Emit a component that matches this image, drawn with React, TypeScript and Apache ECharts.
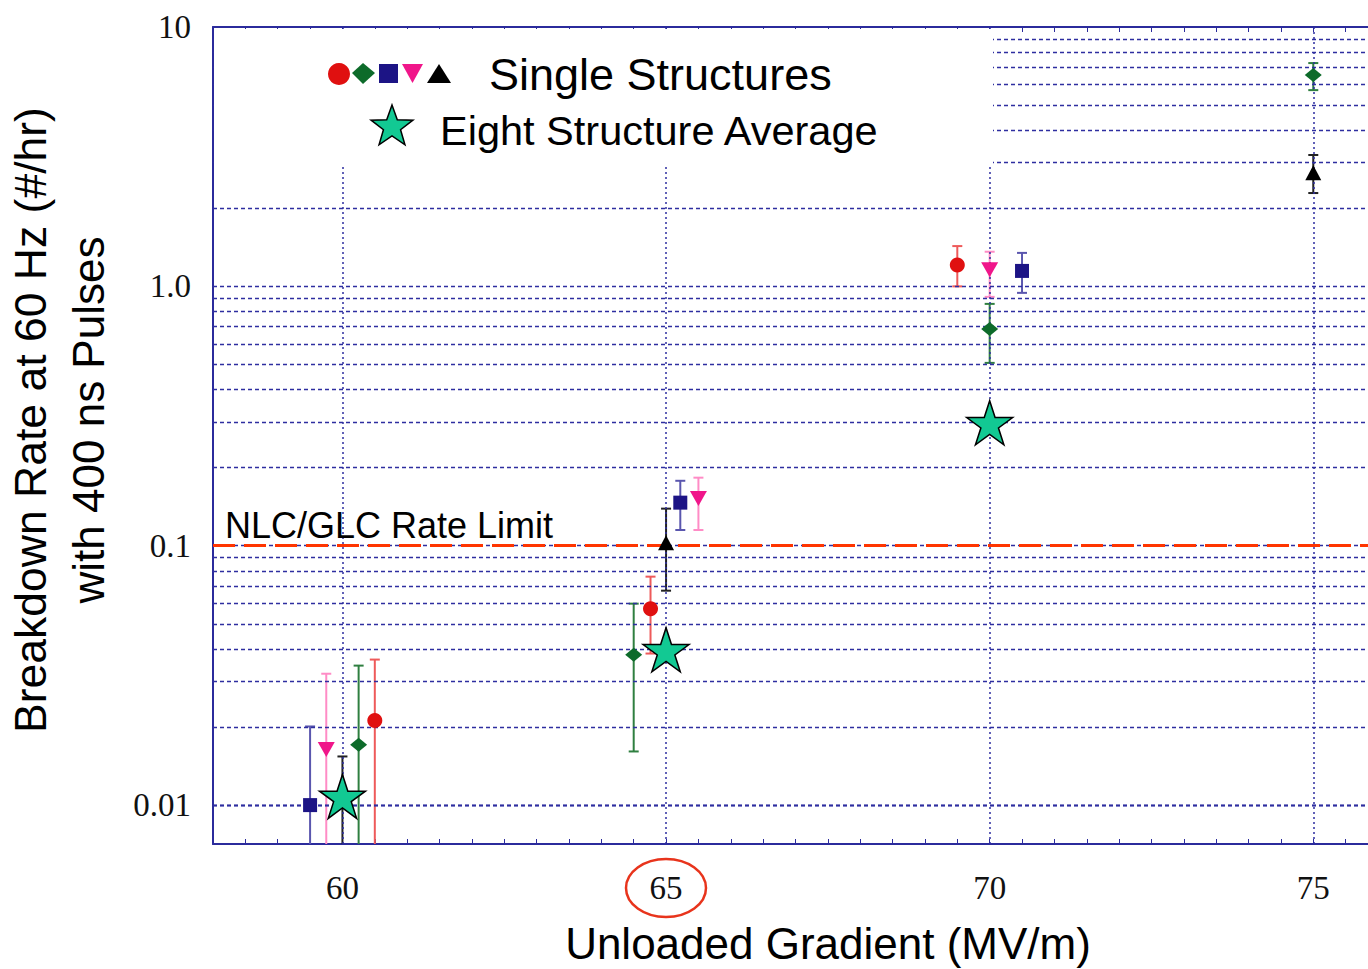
import React, { useEffect, useRef } from "react";
import * as echarts from "echarts";

// ---- data ----
const redX = [60.5, 64.76, 69.5];
const redY = [0.0212, 0.0572, 1.21];
const redLow = [0.005, 0.0384, 1.0];
const redHigh = [0.0364, 0.076, 1.43];

const greenX = [60.25, 64.5, 70, 75];
const greenY = [0.0171, 0.038, 0.685, 6.53];
const greenLow = [0.005, 0.0161, 0.507, 5.71];
const greenHigh = [0.0345, 0.0598, 0.856, 7.26];

const navyX = [59.5, 65.22, 70.5];
const navyY = [0.01, 0.1466, 1.147];
const navyLow = [0.005, 0.115, 0.944];
const navyHigh = [0.0201, 0.178, 1.346];

const pinkX = [59.75, 65.5, 70];
const pinkY = [0.0164, 0.152, 1.158];
const pinkLow = [0.005, 0.115, 0.911];
const pinkHigh = [0.0321, 0.183, 1.36];

const blackX = [65, 75];
const blackY = [0.1027, 2.74];
const blackLow = [0.0671, 2.29];
const blackHigh = [0.139, 3.21];

const starX = [60, 65, 70];
const starY = [0.0108, 0.0397, 0.298];
const starErrX = [60];
const starErrLow = [0.005];
const starErrHigh = [0.0154];

const rateLimit = 0.1;
const xGridLines = [60, 65, 70, 75];
const xLabelValues = [60, 65, 70, 75];
const yTickValues = [0.01, 0.1, 1, 10];
const yTickLabels = ["0.01", "0.1", "1.0", "10"];

const xMin = 58;
const xMax = 76;
const yMin = 0.00708;
const yMax = 10;

const yGridLevels = [0.001, 0.01, 0.1, 1]
  .flatMap((d) => [1, 2, 3, 4, 5, 6, 7, 8, 9].map((m) => +(m * d).toPrecision(3)))
  .filter((v) => v > yMin && v < yMax);

const STAR_PATH =
  "path://M50 0 L61.2 34.5 L97.6 34.5 L68.2 55.9 L79.4 90.5 L50 69.1 L20.6 90.5 L31.8 55.9 L2.4 34.5 L38.8 34.5 Z";
const TRI_DOWN_PATH = "path://M0 0 L100 0 L50 90 Z";

const C = {
  red: "#e01010",
  redBar: "#ee5a5a",
  green: "#0d6b2a",
  greenBar: "#2f7f40",
  navy: "#1c1485",
  navyBar: "#5a56ae",
  pink: "#f0168a",
  pinkBar: "#ff8cc6",
  black: "#000000",
  blackBar: "#222222",
  star: "#12c993",
  axis: "#2b2b9c",
  grid: "#2e2ea0",
};

function starPoints(cx: number, cy: number, R: number, r: number) {
  const pts: number[][] = [];
  for (let i = 0; i < 10; i++) {
    const ang = -Math.PI / 2 + (i * Math.PI) / 5;
    const rad = i % 2 === 0 ? R : r;
    pts.push([cx + rad * Math.cos(ang), cy + rad * Math.sin(ang)]);
  }
  return pts;
}

function errorSeries(xs: number[], lows: number[], highs: number[], color: string) {
  return {
    type: "custom",
    silent: true,
    z: 4,
    data: xs.map((x, i) => [x, lows[i], highs[i]]),
    encode: { x: 0, y: [1, 2] },
    renderItem: (params: any, api: any) => {
      const x = api.value(0);
      const lo = api.value(1);
      const hi = api.value(2);
      const a = api.coord([x, hi]);
      const b = api.coord([x, lo]);
      const cs = params.coordSys;
      const top = cs.y;
      const bottom = cs.y + cs.height;
      const y1 = Math.max(a[1], top);
      const y2 = Math.min(b[1], bottom);
      const style = { stroke: color, lineWidth: 2 };
      const cap = 5;
      const children: any[] = [
        { type: "line", shape: { x1: a[0], y1, x2: a[0], y2 }, style },
      ];
      if (a[1] >= top)
        children.push({ type: "line", shape: { x1: a[0] - cap, y1: a[1], x2: a[0] + cap, y2: a[1] }, style });
      if (b[1] <= bottom)
        children.push({ type: "line", shape: { x1: b[0] - cap, y1: b[1], x2: b[0] + cap, y2: b[1] }, style });
      return { type: "group", children };
    },
  };
}

function scatter(name: string, xs: number[], ys: number[], symbol: string, size: any, color: string) {
  return {
    type: "scatter",
    name,
    z: 6,
    symbol,
    symbolSize: size,
    itemStyle: { color, opacity: 1 },
    data: xs.map((x, i) => [x, ys[i]]),
  };
}

export default function App() {
  const ref = useRef<HTMLDivElement>(null);

  useEffect(() => {
    if (!ref.current) return;
    const chart = echarts.init(ref.current, null, { renderer: "svg" });

    const sansFont = "'Liberation Sans', Arial, sans-serif";
    const serifFont = "'Liberation Serif', 'Times New Roman', serif";

    const xAxisCommon = {
      type: "value",
      min: xMin,
      max: xMax,
      interval: 0.5,
      axisLine: { show: true, lineStyle: { color: C.axis, width: 2 } },
      axisTick: { show: true, inside: true, length: 5, lineStyle: { color: C.axis, width: 1 } },
      splitLine: { show: false },
    };

    const option: any = {
      animation: false,
      backgroundColor: "#ffffff",
      grid: { left: 213, top: 27, right: 22, bottom: 125 },
      xAxis: [
        {
          ...xAxisCommon,
          position: "bottom",
          axisLabel: {
            interval: 0,
            showMinLabel: false,
            showMaxLabel: false,
            formatter: (v: number) => (xLabelValues.includes(v) ? String(v) : ""),
            fontFamily: serifFont,
            fontSize: 33,
            color: "#111",
            margin: 27,
          },
        },
        {
          ...xAxisCommon,
          position: "top",
          axisLabel: { show: false },
        },
      ],
      yAxis: {
        type: "log",
        logBase: 10,
        min: yMin,
        max: yMax,
        axisLine: { show: true, lineStyle: { color: C.axis, width: 2 } },
        axisTick: { show: false },
        splitLine: { show: false },
        axisLabel: {
          showMinLabel: false,
          fontFamily: serifFont,
          fontSize: 33,
          color: "#111",
          margin: 22,
          formatter: (v: number) => {
            const idx = yTickValues.findIndex((t) => Math.abs(Math.log10(v) - Math.log10(t)) < 1e-6);
            return idx >= 0 ? yTickLabels[idx] : "";
          },
        },
      },
      series: [
        {
          type: "scatter",
          data: [],
          silent: true,
          z: 1,
          markLine: {
            silent: true,
            symbol: "none",
            animation: false,
            label: { show: false },
            lineStyle: { color: C.grid, width: 1.3, type: [4, 3], opacity: 1 },
            data: [
              ...yGridLevels.map((v) => ({ yAxis: v })),
              ...xGridLines.map((v) => ({ xAxis: v, lineStyle: { color: C.grid, width: 1.5, type: [2, 3] } })),
            ],
          },
        },
        {
          type: "scatter",
          data: [],
          silent: true,
          z: 3,
          markLine: {
            silent: true,
            symbol: "none",
            animation: false,
            label: { show: false },
            lineStyle: { color: "#ff3500", width: 3, type: [22, 9] },
            data: [{ yAxis: rateLimit }],
          },
        },
        errorSeries(navyX, navyLow, navyHigh, C.navyBar),
        errorSeries(pinkX, pinkLow, pinkHigh, C.pinkBar),
        errorSeries(greenX, greenLow, greenHigh, C.greenBar),
        errorSeries(redX, redLow, redHigh, C.redBar),
        errorSeries(blackX, blackLow, blackHigh, C.blackBar),
        errorSeries(starErrX, starErrLow, starErrHigh, C.blackBar),
        scatter("navy", navyX, navyY, "rect", 14, C.navy),
        scatter("pink", pinkX, pinkY, TRI_DOWN_PATH, [17, 15], C.pink),
        scatter("green", greenX, greenY, "diamond", [17, 14], C.green),
        scatter("red", redX, redY, "circle", 15, C.red),
        scatter("black", blackX, blackY, "triangle", [16, 15], C.black),
        {
          type: "scatter",
          name: "star",
          z: 7,
          symbol: STAR_PATH,
          symbolSize: [46, 44],
          itemStyle: { color: C.star, borderColor: "#000", borderWidth: 1.5, opacity: 1 },
          data: starX.map((x, i) => [x, starY[i]]),
        },
      ],
      graphic: [
        // legend panel
        { type: "rect", z: 50, shape: { x: 214, y: 29, width: 779, height: 137 }, style: { fill: "#ffffff" } },
        { type: "circle", z: 51, shape: { cx: 339, cy: 74, r: 11 }, style: { fill: C.red } },
        { type: "polygon", z: 52, shape: { points: [[352, 73], [363, 63], [375, 73], [363, 84]] }, style: { fill: C.green } },
        { type: "rect", z: 51, shape: { x: 379, y: 64, width: 19, height: 19 }, style: { fill: C.navy } },
        { type: "polygon", z: 51, shape: { points: [[402, 64], [423, 64], [412.5, 83]] }, style: { fill: C.pink } },
        { type: "polygon", z: 51, shape: { points: [[439, 64], [451, 83], [427, 83]] }, style: { fill: C.black } },
        {
          type: "polygon",
          z: 51,
          shape: { points: starPoints(392, 127, 22, 9) },
          style: { fill: C.star, stroke: "#000", lineWidth: 1.5 },
        },
        {
          type: "text",
          z: 52,
          x: 489,
          y: 74,
          style: { text: "Single Structures", fill: "#000", font: `45px ${sansFont}`, verticalAlign: "middle", align: "left" },
        },
        {
          type: "text",
          z: 52,
          x: 440,
          y: 130,
          style: { text: "Eight Structure Average", fill: "#000", font: `41.5px ${sansFont}`, verticalAlign: "middle", align: "left" },
        },
        // rate limit label
        {
          type: "text",
          z: 52,
          x: 225,
          y: 525,
          style: { text: "NLC/GLC Rate Limit", fill: "#000", font: `36px ${sansFont}`, verticalAlign: "middle", align: "left" },
        },
        // axis titles
        {
          type: "text",
          z: 52,
          x: 828,
          y: 943,
          style: { text: "Unloaded Gradient (MV/m)", fill: "#000", font: `44px ${sansFont}`, verticalAlign: "middle", align: "center" },
        },
        {
          type: "text",
          z: 52,
          x: 30,
          y: 420,
          rotation: Math.PI / 2,
          style: { text: "Breakdown Rate at 60 Hz (#/hr)", fill: "#000", font: `44.5px ${sansFont}`, verticalAlign: "middle", align: "center" },
        },
        {
          type: "text",
          z: 52,
          x: 88,
          y: 420,
          rotation: Math.PI / 2,
          style: { text: "with 400 ns Pulses", fill: "#000", font: `44px ${sansFont}`, verticalAlign: "middle", align: "center" },
        },
        // highlight around 65
        {
          type: "ellipse",
          z: 52,
          shape: { cx: 666, cy: 888, rx: 40, ry: 29 },
          style: { fill: "none", stroke: "#e8341c", lineWidth: 2.5 },
        },
      ],
    };

    chart.setOption(option);
    return () => chart.dispose();
  }, []);

  return (
    <div style={{ position: "fixed", left: 0, top: 0, width: 1368, height: 969, overflow: "hidden", background: "#fff" }}>
      <div ref={ref} style={{ width: 1400, height: 969 }} />
    </div>
  );
}
